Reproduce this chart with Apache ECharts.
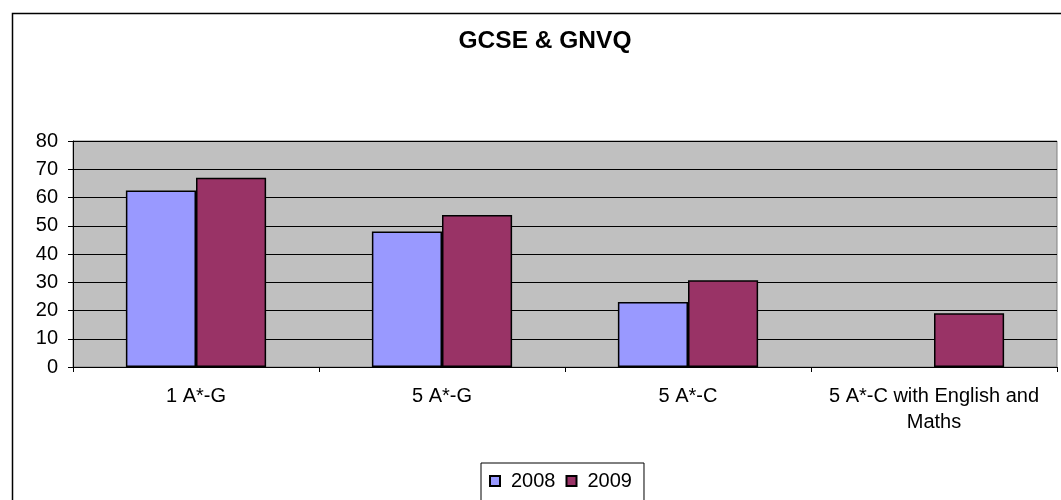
<!DOCTYPE html>
<html>
<head>
<meta charset="utf-8">
<script src="https://cdn.jsdelivr.net/npm/echarts@6/dist/echarts.min.js"></script>
<style>
  html, body { margin: 0; padding: 0; background: #fff; }
  #chart { width: 1061px; height: 500px; }
</style>
</head>
<body>
<div id="chart"></div>
<script>
  const categories = ["1 A*-G", "5 A*-G", "5 A*-C", "5 A*-C with English and\nMaths"];
  const values2008 = [62.5, 48, 23, null];
  const values2009 = [67, 53.8, 30.7, 19];
  const yTicks = [0, 10, 20, 30, 40, 50, 60, 70, 80];

  const font = "Arial, 'Liberation Sans', sans-serif";
  const chart = echarts.init(document.getElementById("chart"));

  function barSeries(name, data, color) {
    return {
      name,
      type: "bar",
      data,
      barGap: "0%",
      barCategoryGap: "43%",
      itemStyle: { color, borderColor: "#000", borderWidth: 1.5 },
    };
  }

  chart.setOption({
    animation: false,
    textStyle: { fontFamily: font },
    title: {
      text: "GCSE & GNVQ",
      left: 540,
      textAlign: "center",
      top: 24,
      textStyle: { fontSize: 24.5, fontWeight: "bold", color: "#000", fontFamily: font },
    },
    graphic: [{
      type: "rect",
      left: 10,
      top: 11,
      shape: { width: 1100, height: 600 },
      style: { fill: null, stroke: "#000", lineWidth: 1.5 },
      silent: true,
      z: -1,
    }],
    legend: {
      left: 481,
      top: 463,
      itemWidth: 10,
      itemHeight: 10,
      itemGap: 10,
      padding: [8, 12, 12, 8],
      borderColor: "#000",
      borderWidth: 1,
      textStyle: { fontSize: 20, color: "#000", fontFamily: font, padding: [0, 0, 0, 6] },
      data: [
        { name: "2008", icon: "rect" },
        { name: "2009", icon: "rect" },
      ],
    },
    grid: {
      left: 73,
      right: 4,
      top: 141,
      bottom: 133,
      show: true,
      backgroundColor: "#C0C0C0",
      borderColor: "#808080",
      borderWidth: 1,
    },
    xAxis: {
      type: "category",
      data: categories,
      axisLine: { lineStyle: { color: "#000", width: 1 } },
      axisTick: { show: true, length: 5, lineStyle: { color: "#000" } },
      axisLabel: { color: "#000", fontSize: 20, margin: 16, lineHeight: 26, interval: 0, fontFamily: font },
    },
    yAxis: {
      type: "value",
      min: yTicks[0],
      max: yTicks[yTicks.length - 1],
      interval: 10,
      axisLine: { show: true, lineStyle: { color: "#000", width: 1 } },
      axisTick: { show: true, length: 5, lineStyle: { color: "#000" } },
      axisLabel: { color: "#000", fontSize: 20, margin: 15, fontFamily: font },
      splitLine: { lineStyle: { color: "#000", width: 1 } },
    },
    series: [
      barSeries("2008", values2008, "#9999FF"),
      barSeries("2009", values2009, "#993366"),
    ],
  });
</script>
</body>
</html>
